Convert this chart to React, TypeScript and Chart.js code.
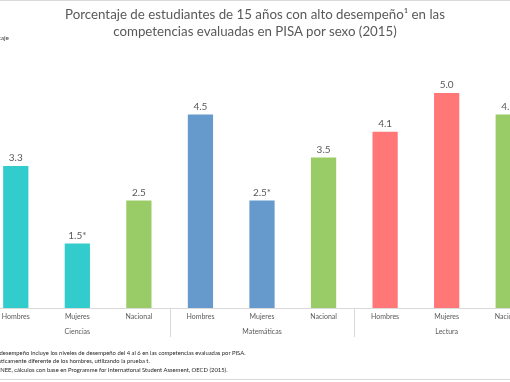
import React, { useEffect, useRef } from "react";
import { Chart, registerables } from "chart.js";
Chart.register(...registerables);

const categories = ["Hombres", "Mujeres", "Nacional", "Hombres", "Mujeres", "Nacional", "Hombres", "Mujeres", "Nacional"];
const groups = ["Ciencias", "Matemáticas", "Lectura"];
const values = [3.3, 1.5, 2.5, 4.5, 2.5, 3.5, 4.1, 5.0, 4.5];
const valueLabels = ["3.3", "1.5*", "2.5", "4.5", "2.5*", "3.5", "4.1", "5.0", "4.5"];
const barColors = ["#33CCCC", "#33CCCC", "#99CC66", "#6699CC", "#6699CC", "#99CC66", "#FF7777", "#FF7777", "#99CC66"];
const titleLines = ["Porcentaje de estudiantes de 15 años con alto desempeño¹ en las", "competencias evaluadas en PISA por sexo (2015)"];
const yTitle = "Porcentaje";
const footnotes = [
  "¹ El alto desempeño incluye los niveles de desempeño del 4 al 6 en las competencias evaluadas por PISA.",
  "* Estadísticamente diferente de los hombres, utilizando la prueba t.",
  "Fuente: INEE, cálculos con base en Programme for International Student Assement, OECD (2015).",
];
const footnoteEnds = [246, 150, 228];

const FONT = "Lato, 'Open Sans', sans-serif";

export default function App() {
  const ref = useRef<HTMLCanvasElement | null>(null);
  useEffect(() => {
    document.body.style.margin = "0";
    const canvas = ref.current!;
    const labelPlugin = {
      id: "valLabels",
      afterDatasetsDraw(chart: any) {
        const ctx = chart.ctx;
        const meta = chart.getDatasetMeta(0);
        ctx.save();
        ctx.font = `10px ${FONT}`;
        ctx.fillStyle = "#595959";
        ctx.textAlign = "center";
        ctx.textBaseline = "bottom";
        meta.data.forEach((bar: any, i: number) => {
          ctx.fillText(valueLabels[i], bar.x, bar.y - 3);
        });
        ctx.restore();
      },
    };
    const sepPlugin = {
      id: "groupSeparators",
      afterDraw(chart: any) {
        const ctx = chart.ctx;
        const xs = chart.scales.x;
        const bottom = chart.chartArea.bottom;
        ctx.save();
        ctx.strokeStyle = "#D9D9D9";
        ctx.lineWidth = 1;
        for (let g = 0; g <= groups.length; g++) {
          const idx = g * 3;
          const px = xs.getPixelForValue(idx) - (xs.getPixelForValue(1) - xs.getPixelForValue(0)) / 2;
          const x = Math.round(px) + 0.5;
          ctx.beginPath();
          ctx.moveTo(x, bottom);
          ctx.lineTo(x, bottom + 29);
          ctx.stroke();
        }
        ctx.restore();
      },
    };
    const chart = new Chart(canvas, {
      type: "bar",
      data: {
        labels: categories,
        datasets: [
          {
            data: values,
            backgroundColor: barColors,
            borderWidth: 0,
            barPercentage: 0.41,
            categoryPercentage: 1,
          },
        ],
      },
      options: {
        responsive: false,
        animation: false,
        devicePixelRatio: 1,
        layout: { padding: { left: 45, right: 1, top: 50, bottom: 0 } },
        plugins: { legend: { display: false }, tooltip: { enabled: false }, title: { display: false } },
        scales: {
          y: { display: false, min: 0, max: 6 },
          x: {
            weight: 0,
            grid: { display: false, drawTicks: false },
            border: { display: true, color: "#D9D9D9", width: 1 },
            ticks: { font: { family: FONT, size: 7 }, color: "#595959", padding: 5, maxRotation: 0, autoSkip: false },
            afterFit: (s: any) => { s.height = 16; },
          },
          x2: {
            type: "category",
            position: "bottom",
            weight: 1,
            labels: groups,
            offset: true,
            grid: { display: false, drawTicks: false },
            border: { display: false },
            ticks: { font: { family: FONT, size: 7 }, color: "#595959", padding: 4, maxRotation: 0, autoSkip: false },
            afterFit: (s: any) => { s.height = 58; },
          },
        },
      },
      plugins: [labelPlugin, sepPlugin],
    } as any);
    return () => chart.destroy();
  }, []);

  return (
    <div style={{ position: "fixed", left: 0, top: 0, width: 510, height: 382, overflow: "hidden", background: "#fff", fontFamily: FONT }}>
      <div style={{ position: "absolute", left: 0, right: 0, top: 0, height: 1, background: "#D9D9D9" }} />
      <div style={{ position: "absolute", left: 0, right: 0, top: 379, height: 1, background: "#D9D9D9" }} />
      <canvas ref={ref} width={600} height={382} style={{ position: "absolute", left: -60, top: 0, width: 600, height: 382 }} />
      <div style={{ position: "absolute", left: 0, width: 510, top: 6, textAlign: "center", color: "#595959", fontSize: 13.3, lineHeight: "16.5px" }}>
        {titleLines.map((t, i) => (<div key={i}>{t}</div>))}
      </div>
      <div style={{ position: "absolute", right: 501, top: 34, fontSize: 6.5, color: "#404040", whiteSpace: "nowrap" }}>{yTitle}</div>
      {footnotes.map((t, i) => (
        <div
          key={i}
          style={{
            position: "absolute",
            right: 510 - footnoteEnds[i],
            top: 349 + i * 8.3,
            fontSize: 6.5,
            lineHeight: "8px",
            color: "#262626",
            whiteSpace: "nowrap",
            transform: "scaleX(0.9)",
            transformOrigin: "right top",
          }}
        >
          {t}
        </div>
      ))}
    </div>
  );
}
